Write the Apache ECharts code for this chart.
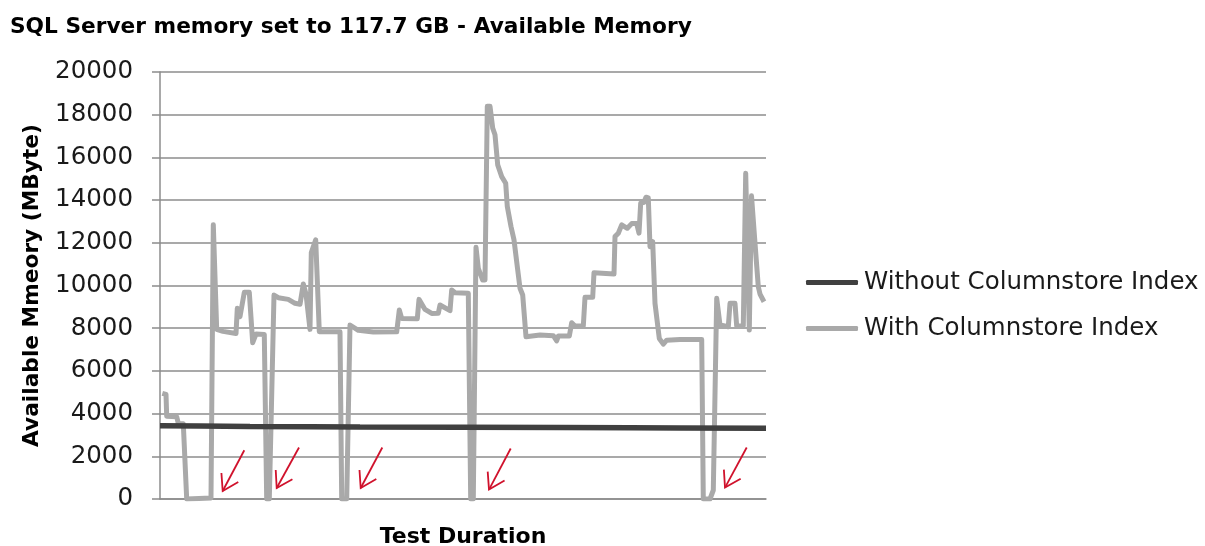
<!DOCTYPE html>
<html>
<head>
<meta charset="utf-8">
<script src="https://cdn.jsdelivr.net/npm/echarts@6/dist/echarts.min.js"></script>
<style>html,body{margin:0;padding:0;background:#fff}#c{width:1205px;height:546px}</style>
</head>
<body>
<div id="c"></div>
<script>
const titleText = 'SQL Server memory set to 117.7 GB - Available Memory';
const seriesNames = ['Without Columnstore Index', 'With Columnstore Index'];
const yTicks = { min: 0, max: 20000, interval: 2000 };
const xRange = { min: 0, max: 606 };

// [time step, MByte]
const withoutIndex = [
  [0, 3430], [40, 3420], [90, 3390], [150, 3385], [200, 3370], [300, 3360],
  [400, 3350], [470, 3340], [520, 3330], [606, 3310]
];

const withIndex = [
  [2.3, 4950], [6, 4900], [6.7, 3880], [16.7, 3850], [18.3, 3540], [23.3, 3520],
  [26.7, 0], [51, 50], [53.3, 12850], [56.7, 7950], [63, 7850], [76, 7750],
  [77.3, 8930], [80, 8540], [81.7, 8600], [84.3, 9680], [89.3, 9680], [92.7, 7320],
  [96, 7725], [104.3, 7700], [106.7, 0], [109.3, 0], [114, 9555], [118.3, 9430],
  [128.3, 9350], [135, 9165], [140, 9120], [143.3, 10070], [146, 9600], [150, 7945],
  [151.3, 11540], [153.3, 11600], [155.7, 12135], [159.3, 7835], [180, 7835],
  [181.7, 0], [186.7, 0], [190, 8150], [198.3, 7900], [213.3, 7820], [236.7, 7830],
  [239.3, 8850], [241.7, 8460], [257.3, 8440], [259, 9350], [265, 8880], [271.7, 8690],
  [278.3, 8700], [280, 9085], [290, 8820], [291.7, 9790], [295, 9660], [308.3, 9640],
  [310.7, 0], [313.3, 0], [316, 11790], [318.3, 10805], [322.7, 10255], [325, 10255],
  [327.3, 18390], [330, 18390], [332.7, 17370], [335, 17060], [337.7, 15650],
  [341.7, 15100], [345.7, 14790], [347.3, 13700], [351, 12760], [354, 12135],
  [357.7, 10730], [360, 9870], [362.7, 9555], [366, 7600], [380, 7680], [393.3, 7650],
  [396.7, 7410], [398.3, 7630], [409.3, 7630], [411.7, 8255], [415, 8100], [423.3, 8100],
  [425, 9445], [432.7, 9445], [434, 10600], [454, 10540], [455, 12290], [458.3, 12450],
  [461.7, 12840], [467.3, 12680], [471.7, 12900], [476.7, 12900], [479, 12450],
  [480.7, 13855], [484, 13900], [486, 14135], [488.3, 14100], [490, 11820], [492.7, 12050],
  [495, 9165], [499.3, 7520], [503.3, 7255], [506.7, 7440], [520, 7470], [541.7, 7470],
  [543.3, 0], [550, 0], [553.3, 410], [556.7, 9400], [560, 8150], [568.3, 8070],
  [570, 9165], [575, 9165], [576.7, 8100], [583.3, 8100], [585.7, 15260], [587.7, 15180],
  [589.3, 7910], [591.5, 14200], [595, 11980], [598.3, 9940], [600, 9600], [604, 9240]
];

// red annotation arrows: [tip time, tip MByte, tail time, tail MByte]
const arrows = [
  [62.7, 375, 84.3, 2285],
  [116.7, 516, 139, 2410],
  [200.7, 516, 222.3, 2410],
  [329, 441, 350.7, 2364],
  [565, 535, 586.7, 2411]
];

const FONT = 'DejaVu Sans';
const GRID = '#8c8c8c';

const chart = echarts.init(document.getElementById('c'), null, { renderer: 'canvas' });
chart.setOption({
  animation: false,
  backgroundColor: '#fff',
  title: {
    text: titleText, left: 5, top: 11,
    textStyle: { fontFamily: FONT, fontSize: 21.7, fontWeight: 'bold', color: '#000' }
  },
  legend: {
    data: seriesNames.map(n => ({ name: n, icon: 'roundRect' })),
    orient: 'vertical', left: 801, top: 265,
    itemWidth: 52, itemHeight: 5, itemGap: 21,
    textStyle: { fontFamily: FONT, fontSize: 24.5, color: '#1a1a1a', padding: [0, 0, 0, 1] }
  },
  grid: { left: 160, right: 439, top: 72, bottom: 47, containLabel: false, outerBoundsMode: 'none' },
  xAxis: {
    type: 'value', min: xRange.min, max: xRange.max,
    name: 'Test Duration', nameLocation: 'middle', nameGap: 27,
    nameTextStyle: { fontFamily: FONT, fontSize: 22, fontWeight: 'bold', color: '#000' },
    axisLine: { show: true, lineStyle: { color: GRID, width: 1.5 } },
    axisTick: { show: false }, axisLabel: { show: false }, splitLine: { show: false }
  },
  yAxis: {
    type: 'value', min: yTicks.min, max: yTicks.max, interval: yTicks.interval,
    name: 'Available Mmeory (MByte)', nameLocation: 'middle', nameGap: 117,
    nameTextStyle: { fontFamily: FONT, fontSize: 21.7, fontWeight: 'bold', color: '#000' },
    axisLine: { show: true, lineStyle: { color: GRID, width: 1.5 } },
    axisTick: { show: true, length: 8, lineStyle: { color: GRID, width: 1.5 } },
    axisLabel: { fontFamily: FONT, fontSize: 24.5, color: '#1a1a1a', margin: 27, formatter: v => String(v) },
    splitLine: { show: true, lineStyle: { color: GRID, width: 1.5 } }
  },
  series: [
    {
      name: seriesNames[0], type: 'line', data: withoutIndex,
      showSymbol: false, symbol: 'none',
      lineStyle: { color: '#404040', width: 5.5 }, itemStyle: { color: '#404040' }, z: 3
    },
    {
      name: seriesNames[1], type: 'line', data: withIndex,
      showSymbol: false, symbol: 'none',
      lineStyle: { color: '#a9a9a9', width: 5, join: 'round' }, itemStyle: { color: '#a9a9a9' }, z: 2
    },
    {
      type: 'custom', data: arrows, silent: true, z: 5,
      renderItem: function (params, api) {
        const tip = api.coord([api.value(0), api.value(1)]);
        const tail = api.coord([api.value(2), api.value(3)]);
        const dx = tail[0] - tip[0], dy = tail[1] - tip[1];
        const ang = Math.atan2(dy, dx);
        const L = 18, spread = 32 * Math.PI / 180;
        const a1 = [tip[0] + L * Math.cos(ang - spread), tip[1] + L * Math.sin(ang - spread)];
        const a2 = [tip[0] + L * Math.cos(ang + spread), tip[1] + L * Math.sin(ang + spread)];
        const st = { stroke: '#d0122c', lineWidth: 1.8, fill: null };
        return {
          type: 'group',
          children: [
            { type: 'polyline', shape: { points: [tail, tip] }, style: st },
            { type: 'polyline', shape: { points: [a1, tip, a2] }, style: st }
          ]
        };
      }
    }
  ]
});
</script>
</body>
</html>
